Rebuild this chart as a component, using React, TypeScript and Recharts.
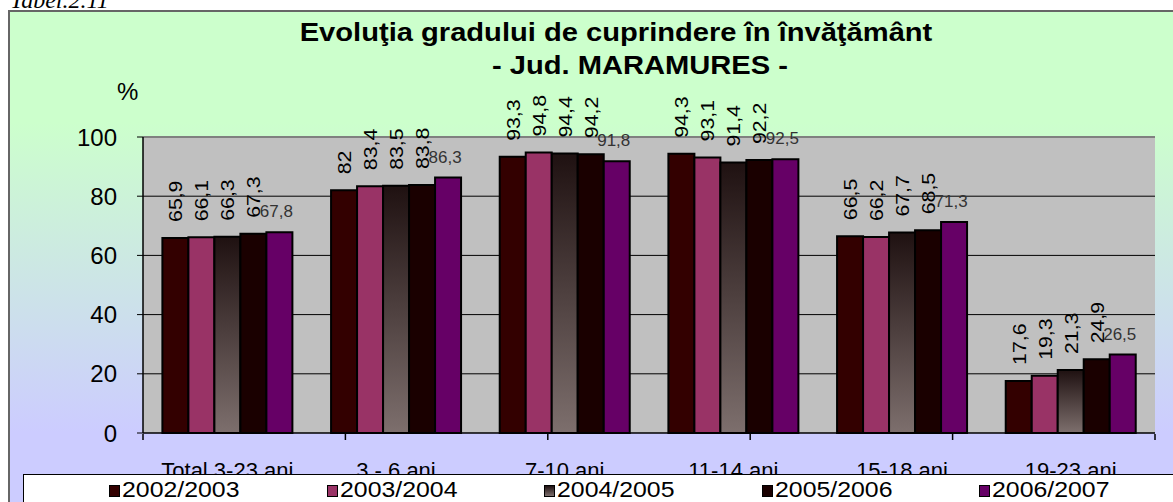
import {
  BarChart,
  Bar,
  XAxis,
  YAxis,
  CartesianGrid,
  Legend,
  LabelList,
  ReferenceLine,
} from "recharts";

const categories = [
  "Total 3-23 ani",
  "3 - 6 ani",
  "7-10 ani",
  "11-14 ani",
  "15-18 ani",
  "19-23 ani",
];

const an2002 = [65.9, 82, 93.3, 94.3, 66.5, 17.6];
const an2003 = [66.1, 83.4, 94.8, 93.1, 66.2, 19.3];
const an2004 = [66.3, 83.5, 94.4, 91.4, 67.7, 21.3];
const an2005 = [67.3, 83.8, 94.2, 92.2, 68.5, 24.9];
const an2006 = [67.8, 86.3, 91.8, 92.5, 71.3, 26.5];

const seriesNames = ["2002/2003", "2003/2004", "2004/2005", "2005/2006", "2006/2007"];
const yTicks = [0, 20, 40, 60, 80, 100];
const edgeTicks = [0, 1, 2, 3, 4, 5, 6];

const seriesValues = [an2002, an2003, an2004, an2005, an2006];
const seriesKeys = ["s0", "s1", "s2", "s3", "s4"];
const fills = ["#330000", "#993366", "url(#grad2004)", "#1a0000", "#660066"];
const legendFills = [
  "#330000",
  "#993366",
  "linear-gradient(180deg, #1f1111, #7d6f6d)",
  "#1a0000",
  "#660066",
];

const data = categories.map((name, i) => {
  const row: Record<string, string | number> = { name };
  seriesKeys.forEach((k, s) => {
    row[k] = seriesValues[s][i];
  });
  return row;
});

const FONT = 'Arial, "Liberation Sans", sans-serif';

const fmt = (v: unknown) => String(v).replace(".", ",");

function verticalLabel(props: any) {
  const { x, y, width, value } = props;
  const cx = Number(x) + Number(width) / 2;
  const top = Number(y) - 16;
  return (
    <text
      transform={`translate(${cx},${top}) rotate(-90) scale(1.12,1)`}
      dy="0.36em"
      fontSize={19}
      fill="#000"
      textAnchor="start"
      fontFamily={FONT}
    >
      {fmt(value)}
    </text>
  );
}

function flatLabel(props: any) {
  const { x, y, width, value } = props;
  const cx = Number(x) + Number(width) / 2;
  return (
    <text
      x={cx - 3}
      y={Number(y) - 15}
      fontSize={17}
      fill="#333"
      textAnchor="middle"
      fontFamily={FONT}
    >
      {fmt(value)}
    </text>
  );
}

// tick marks only, no text, for the category boundaries
const emptyTick = () => <g />;

function renderLegend() {
  return (
    <div style={{ position: "relative", width: "100%", height: "100%" }}>
      {seriesNames.map((name, i) => {
        const left = 85 + i * 217.5;
        return (
          <div key={name}>
            <div
              style={{
                position: "absolute",
                left,
                top: 10,
                width: 9,
                height: 10,
                border: "1px solid #000",
                background: legendFills[i],
              }}
            />
            <div
              style={{
                position: "absolute",
                left: left + 13,
                top: 4,
                fontSize: 22,
                lineHeight: "22px",
                transform: "scaleX(1.13)",
                transformOrigin: "left center",
                color: "#000",
                fontFamily: FONT,
                whiteSpace: "nowrap",
              }}
            >
              {name}
            </div>
          </div>
        );
      })}
    </div>
  );
}

const titleStyle = {
  position: "absolute" as const,
  width: 1000,
  textAlign: "center" as const,
  fontFamily: FONT,
  fontWeight: "bold" as const,
  fontSize: 26,
  lineHeight: "30px",
  transform: "scaleX(1.12)",
  transformOrigin: "center center",
  color: "#000",
};

export default function App() {
  return (
    <div
      style={{
        position: "fixed",
        left: 0,
        top: 0,
        width: 1173,
        height: 502,
        overflow: "hidden",
        background: "#fff",
      }}
    >
      <div
        style={{
          position: "absolute",
          left: 10,
          top: -12,
          fontFamily: '"Liberation Serif", "Times New Roman", serif',
          fontStyle: "italic",
          fontSize: 24,
          lineHeight: "24px",
          color: "#000",
        }}
      >
        Tabel.2.11
      </div>
      <div
        style={{
          position: "absolute",
          left: 8,
          top: 10,
          width: 1200,
          height: 520,
          border: "2px solid #666",
          background:
            "linear-gradient(180deg, #CCFFCC 0px, #CCFFCC 110px, #CCCCFF 420px)",
        }}
      />
      <BarChart
        width={1173}
        height={502}
        data={data}
        margin={{ top: 137, right: 18, left: 83, bottom: 39 }}
        barCategoryGap="11.5%"
        barGap={0}
        style={{ fontFamily: FONT }}
      >
        <defs>
          <linearGradient id="grad2004" x1="0" y1="0" x2="0" y2="1">
            <stop offset="0%" stopColor="#1f1111" />
            <stop offset="100%" stopColor="#7d6f6d" />
          </linearGradient>
        </defs>
        <CartesianGrid
          fill="#C0C0C0"
          fillOpacity={1}
          vertical={false}
          stroke="#000"
          horizontalValues={[20, 40, 60, 80]}
        />
        <XAxis
          dataKey="name"
          height={1}
          interval={0}
          axisLine={{ stroke: "#000", strokeWidth: 1.5 }}
          tickLine={false}
          tickSize={0}
          tickMargin={29}
          tick={{ fontSize: 22, fill: "#000", fontFamily: FONT }}
        />
        <XAxis
          xAxisId="edge"
          type="number"
          domain={[0, 6]}
          ticks={edgeTicks}
          interval={0}
          allowDataOverflow
          height={29}
          tick={emptyTick}
          tickSize={6}
          axisLine={false}
          tickLine={{ stroke: "#000", strokeWidth: 1.5 }}
        />
        <YAxis
          width={60}
          domain={[0, 100]}
          ticks={yTicks}
          interval={0}
          tickSize={6}
          tickMargin={20}
          axisLine={{ stroke: "#000", strokeWidth: 1.5 }}
          tickLine={{ stroke: "#000" }}
          tick={{ fontSize: 24, fill: "#000", fontFamily: FONT }}
        />
        <ReferenceLine y={100} stroke="#808080" strokeWidth={2} />
        <ReferenceLine xAxisId="edge" x={6} stroke="#808080" strokeWidth={2} />
        <Legend
          layout="horizontal"
          verticalAlign="middle"
          align="center"
          content={renderLegend}
          wrapperStyle={{
            left: 23,
            top: 474,
            width: 1200,
            height: 40,
            background: "#fff",
            border: "1px solid #000",
            boxSizing: "border-box",
          }}
        />
        {seriesKeys.map((k, s) => (
          <Bar
            key={k}
            dataKey={k}
            name={seriesNames[s]}
            fill={fills[s]}
            stroke="#000"
            strokeWidth={2}
            isAnimationActive={false}
          >
            <LabelList dataKey={k} content={s < 4 ? verticalLabel : flatLabel} />
          </Bar>
        ))}
      </BarChart>
      <div style={{ ...titleStyle, left: 116, top: 17 }}>
        Evoluţia gradului de cuprindere în învăţământ
      </div>
      <div style={{ ...titleStyle, left: 140, top: 50 }}>- Jud. MARAMURES -</div>
      <div
        style={{
          position: "absolute",
          left: 117,
          top: 80,
          fontFamily: FONT,
          fontSize: 24,
          lineHeight: "24px",
          color: "#000",
        }}
      >
        %
      </div>
    </div>
  );
}
